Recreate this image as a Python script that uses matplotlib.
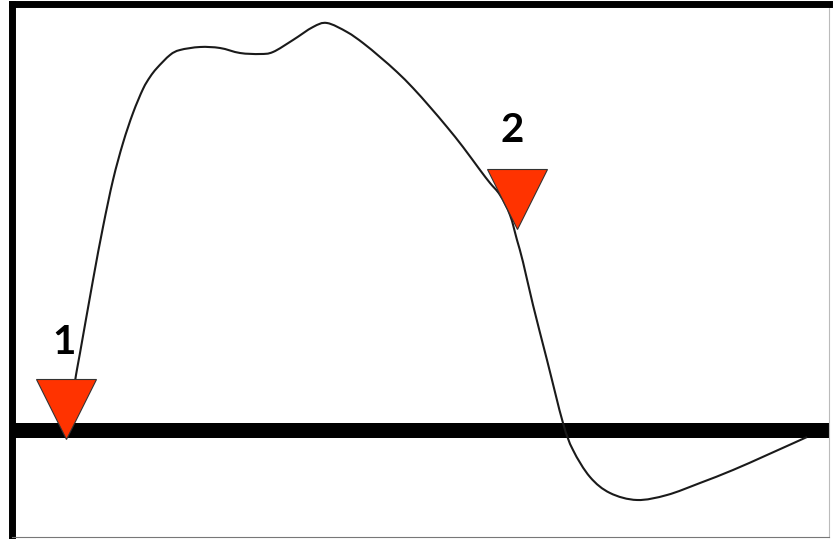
import matplotlib
matplotlib.use("Agg")
import matplotlib.pyplot as plt
from matplotlib.path import Path
from matplotlib.patches import PathPatch
import numpy as np

# Curva de la señal (x en px de tiempo, y = altura sobre la línea base)
t = [73, 76, 80, 93, 103, 113, 123, 133, 143, 150, 157, 170, 180, 200, 220,
     240, 260, 273, 293, 313, 327, 347, 363, 380, 397, 413, 430, 447, 463,
     480, 490, 500, 510, 517, 523, 533, 547, 563, 573, 590, 610, 637, 667,
     700, 733, 767, 807]
senal = [35, 55, 77, 150, 203, 250, 287, 317, 341, 353, 362, 375, 380, 383,
         382, 377, 376, 378, 390, 403, 407, 398, 387, 373, 358, 342, 323, 303,
         283, 260, 247, 235, 215, 190, 168, 125, 70, 7, -20, -47, -63, -70,
         -65, -53, -40, -25, -7]

# Marcadores de eventos
ev_t = [66, 517]
ev_y = [21.5, 231.5]
ev_label = ["1", "2"]
lbl_t = [64, 512]
lbl_y = [88, 300]

fig = plt.figure(figsize=(8.39, 5.39), dpi=100)
ax = fig.add_axes([11.5 / 839, 2 / 539, (829 - 11.5) / 839, (537 - 3.5) / 539])

# Línea base
ax.axhline(0, color="black", linewidth=10.8, zorder=2)

# Señal: trazo suave (Catmull-Rom -> Bezier) por los puntos leídos
p = np.column_stack([t, senal]).astype(float)
pp = np.vstack([p[0], p, p[-1]])
verts = [p[0]]
codes = [Path.MOVETO]
for i in range(1, len(pp) - 2):
    c1 = pp[i] + (pp[i + 1] - pp[i - 1]) / 6
    c2 = pp[i + 1] - (pp[i + 2] - pp[i]) / 6
    verts += [c1, c2, pp[i + 1]]
    codes += [Path.CURVE4] * 3
ax.add_patch(PathPatch(Path(verts, codes), facecolor="none",
                       edgecolor="#1a1a1a", linewidth=1.5, zorder=3))

# Triángulos
ax.plot(ev_t, ev_y, linestyle="none", marker="v", markersize=43,
        markerfacecolor="#FF3300", markeredgecolor="#333333",
        markeredgewidth=0.8, zorder=4)

for x, y, s in zip(lbl_t, lbl_y, ev_label):
    ax.text(x, y, s, ha="center", va="center", fontsize=29,
            fontweight="bold", family="Lato", color="black", zorder=5)

ax.set_xlim(11.5, 829)
ax.set_ylim(-107, 426.5)
ax.set_xticks([])
ax.set_yticks([])

ax.spines["left"].set_linewidth(5.0)
ax.spines["top"].set_linewidth(5.0)
ax.spines["left"].set_color("black")
ax.spines["top"].set_color("black")
ax.spines["right"].set_linewidth(0.8)
ax.spines["right"].set_color("#bbbbbb")
ax.spines["bottom"].set_linewidth(0.8)
ax.spines["bottom"].set_color("#777777")

plt.savefig("out.png", dpi=100)
plt.close()
